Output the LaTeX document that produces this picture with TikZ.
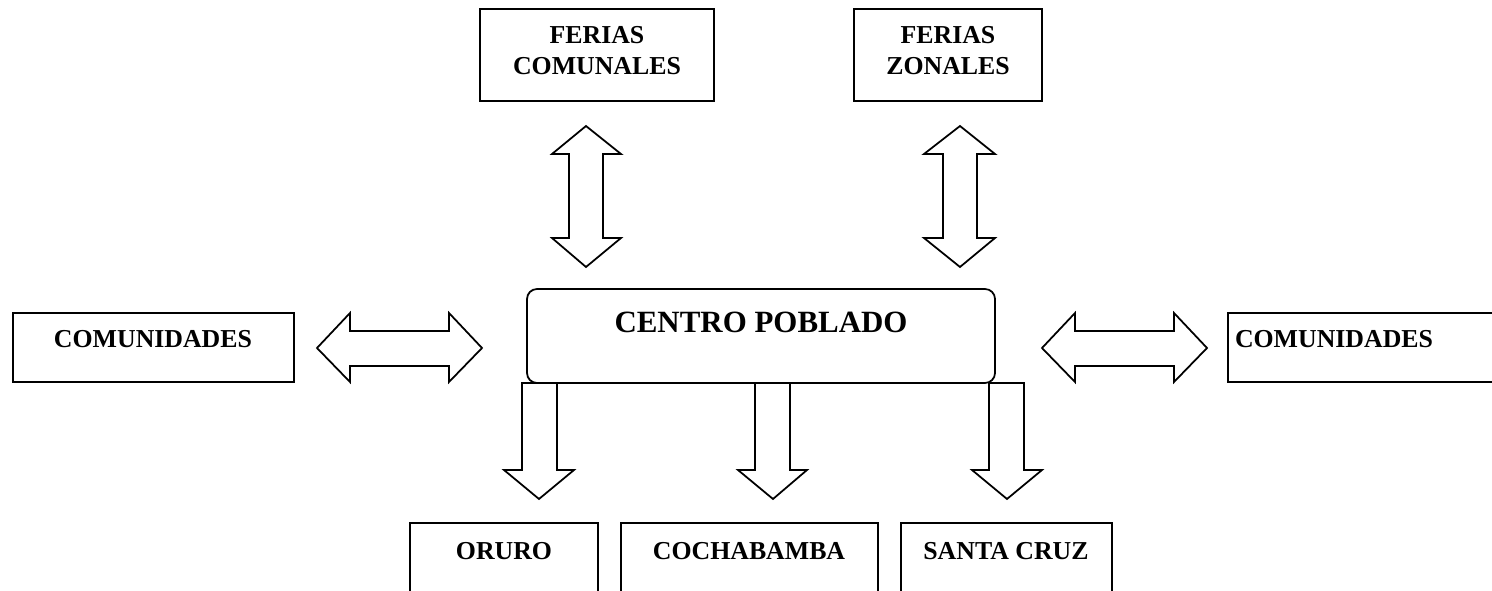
\documentclass[tikz,border=0pt]{standalone}
\usepackage{fontspec}
\setmainfont{Liberation Serif}
\usetikzlibrary{fit}
\tikzset{
  box/.style={draw=black, line width=1pt, inner sep=0pt, fill=white},
  lbl/.style={font=\bfseries\fontsize{14.7pt}{17.6pt}\selectfont, inner sep=0pt, align=center},
  biglbl/.style={font=\bfseries\fontsize{17.6pt}{21pt}\selectfont, inner sep=0pt},
  blockarrow/.style={draw=black, line width=1pt, fill=white, line join=miter},
}
\begin{document}
\begin{tikzpicture}[x=0.02cm, y=-0.02cm]
\useasboundingbox (0,0) rectangle (1492,591);
\clip (0,0) rectangle (1492,591);
\fill[white] (0,0) rectangle (1492,591);
% boxes
\node[box, fit={(480,9) (714,101)}] (ferc) {};
\node[box, fit={(854,9) (1042,101)}] (ferz) {};
\node[box, fit={(13,313) (294,382)}] (comL) {};
\node[box, fit={(1228,313) (1510,382)}] (comR) {};
\node[box, rounded corners=0.2cm, fit={(527,289) (995,383)}] (centro) {};
\node[box, fit={(410,523) (598,610)}] (oruro) {};
\node[box, fit={(621,523) (878,610)}] (cocha) {};
\node[box, fit={(901,523) (1112,610)}] (santa) {};
% labels
\node[lbl] (fercT) at (597,50.5) {FERIAS\\COMUNALES};
\node[lbl] (ferzT) at (948,50.5) {FERIAS\\ZONALES};
\node[lbl, anchor=base] (comLT) at (153,348) {COMUNIDADES};
\node[lbl, anchor=base] (comRT) at (1334,348) {COMUNIDADES};
\node[biglbl, anchor=base] (centroT) at (761,333) {CENTRO POBLADO};
\node[lbl, anchor=base] (oruroT) at (504,559) {ORURO};
\node[lbl, anchor=base] (cochaT) at (749,559) {COCHABAMBA};
\node[lbl, anchor=base] (santaT) at (1006,559) {SANTA CRUZ};
% vertical double arrows
\draw[blockarrow] (586,126) -- (621,154) -- (603,154) -- (603,238) -- (621,238) -- (586,267)
  -- (552,238) -- (569,238) -- (569,154) -- (552,154) -- cycle;
\draw[blockarrow] (960,126) -- (995,154) -- (977,154) -- (977,238) -- (995,238) -- (960,267)
  -- (924,238) -- (943,238) -- (943,154) -- (924,154) -- cycle;
% horizontal double arrows
\draw[blockarrow] (317,348) -- (350,313) -- (350,331) -- (449,331) -- (449,313) -- (482,348)
  -- (449,382) -- (449,366) -- (350,366) -- (350,382) -- cycle;
\draw[blockarrow] (1042,348) -- (1075,313) -- (1075,331) -- (1174,331) -- (1174,313) -- (1207,348)
  -- (1174,382) -- (1174,366) -- (1075,366) -- (1075,382) -- cycle;
% down arrows
\draw[blockarrow] (522,383) -- (557,383) -- (557,470) -- (574,470) -- (539,499) -- (504,470) -- (522,470) -- cycle;
\draw[blockarrow] (755,383) -- (790,383) -- (790,470) -- (807,470) -- (773,499) -- (738,470) -- (755,470) -- cycle;
\draw[blockarrow] (989,383) -- (1024,383) -- (1024,470) -- (1042,470) -- (1007,499) -- (972,470) -- (989,470) -- cycle;
\end{tikzpicture}
\end{document}
